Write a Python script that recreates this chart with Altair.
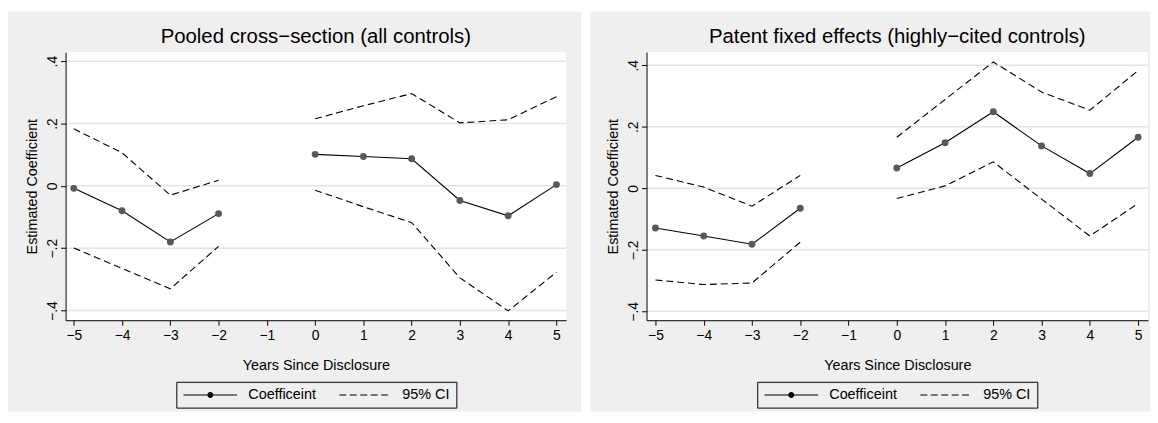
import json
import altair as alt
import pandas as pd

# ---------------- data ----------------
years = [-5, -4, -3, -2, 0, 1, 2, 3, 4, 5]
series_names = ["Coefficeint", "95% CI"]
titles = ["Pooled cross\u2212section (all controls)",
          "Patent fixed effects (highly\u2212cited controls)"]

left_coef = [-0.008, -0.080, -0.180, -0.089, 0.101, 0.094, 0.087, -0.047, -0.096, 0.004]
left_upper = [0.183, 0.106, -0.030, 0.018, 0.215, 0.257, 0.296, 0.202, 0.212, 0.286]
left_lower = [-0.199, -0.265, -0.330, -0.194, -0.014, -0.067, -0.118, -0.295, -0.401, -0.277]

right_coef = [-0.129, -0.155, -0.182, -0.065, 0.066, 0.148, 0.249, 0.138, 0.048, 0.166]
right_upper = [0.042, 0.004, -0.058, 0.042, 0.166, 0.289, 0.411, 0.313, 0.254, 0.383]
right_lower = [-0.298, -0.313, -0.308, -0.175, -0.033, 0.008, 0.086, -0.035, -0.155, -0.049]

x_tick_values = [-5, -4, -3, -2, -1, 0, 1, 2, 3, 4, 5]
x_tick_labels = ["\u22125", "\u22124", "\u22123", "\u22122", "\u22121", "0", "1", "2", "3", "4", "5"]
y_tick_values = [-0.4, -0.2, 0.0, 0.2, 0.4]
y_tick_labels = ["\u2212.4", "\u2212.2", "0", ".2", ".4"]

# ---------------- style ----------------
FONT = "Liberation Sans"
GRAY = "#efefef"
GRID = "#e4e4e4"
PT = "#595959"
H = 270

CIRCLE = "M3,0A0.5,0.5 0 1,0 4,0A0.5,0.5 0 1,0 3,0Z"


def _bar(a, b):
    return "M{},-0.09H{}V0.09H{}Z".format(a, b, a)


fill_solid = _bar(-1, 3) + _bar(4, 8) + CIRCLE
fill_dash = "".join(_bar(a, b) for a, b in
                    [(-0.67, 0.5), (1.08, 2.25), (2.83, 4.0), (4.58, 5.75), (6.33, 7.5)])

x_expr = "{}[indexof({}, datum.value)]".format(
    json.dumps(x_tick_labels, ensure_ascii=False), json.dumps(x_tick_values))
y_expr = "{}[indexof({}, round(datum.value*10))]".format(
    json.dumps(y_tick_labels, ensure_ascii=False),
    json.dumps([int(round(v * 10)) for v in y_tick_values]))

xaxis = alt.Axis(values=x_tick_values, labelExpr=x_expr, title="Years Since Disclosure",
                 grid=False, tickSize=5, labelPadding=3, titlePadding=17, zindex=1)
yaxis = alt.Axis(values=y_tick_values, labelExpr=y_expr, title="Estimated Coefficient",
                 grid=False, tickSize=5, labelAngle=270, labelAlign="center",
                 labelBaseline="alphabetic", labelPadding=4, titlePadding=6, zindex=1)


def panel(title, coef, upper, lower, xdom, ydom, width, gx0, gx1):
    rows = []
    for i, yr in enumerate(years):
        period = "pre" if yr < 0 else "post"
        rows.append(dict(year=yr, value=coef[i], series=series_names[0], line="coef_" + period))
        rows.append(dict(year=yr, value=upper[i], series=series_names[1], line="up_" + period))
        rows.append(dict(year=yr, value=lower[i], series=series_names[1], line="lo_" + period))
    df = pd.DataFrame(rows)

    xs = alt.Scale(domain=xdom, nice=False, zero=False)
    ys = alt.Scale(domain=ydom, nice=False, zero=False)
    one = pd.DataFrame({"k": [0]})

    gray = alt.Chart(one).mark_rect(fill=GRAY).encode(
        x=alt.value(gx0), x2=alt.value(gx1), y=alt.value(-41), y2=alt.value(362))
    white = alt.Chart(one).mark_rect(fill="white").encode(
        x=alt.value(0), x2=alt.value(width), y=alt.value(0), y2=alt.value(H))
    grid = alt.Chart(pd.DataFrame({"v": y_tick_values})).mark_rule(
        color=GRID, strokeWidth=1.5).encode(y=alt.Y("v:Q", scale=ys, axis=yaxis))

    base = alt.Chart(df)
    enc = dict(x=alt.X("year:Q", scale=xs, axis=xaxis),
               y=alt.Y("value:Q", scale=ys, axis=yaxis),
               detail="line:N")
    ci_lines = base.transform_filter(alt.datum.series == series_names[1]).mark_line(
        color="black", strokeWidth=1.1, strokeDash=[7, 4]).encode(**enc)
    coef_line = base.transform_filter(alt.datum.series == series_names[0]).mark_line(
        color="black", strokeWidth=1.1).encode(**enc)
    points = base.transform_filter(alt.datum.series == series_names[0]).mark_circle(
        size=48, color=PT, opacity=1).encode(
        x=alt.X("year:Q", scale=xs, axis=xaxis),
        y=alt.Y("value:Q", scale=ys, axis=yaxis),
    )
    lg = alt.Legend(orient="none", legendX=111.5, legendY=332, direction="horizontal",
                    title=None, strokeColor="black", padding=6, symbolSize=144,
                    symbolOpacity=1, symbolFillColor="black", symbolStrokeWidth=0,
                    labelFontSize=14.5, labelFont=FONT, labelColor="black",
                    labelOffset=52, columnPadding=20)
    leg = alt.Chart(pd.DataFrame({"series": series_names})).transform_filter(
        "false").mark_point(filled=True, color="black", strokeWidth=0).encode(
        shape=alt.Shape("series:N",
                        scale=alt.Scale(domain=series_names, range=[fill_solid, fill_dash]),
                        legend=lg))
    ttl = alt.Chart(pd.DataFrame({"t": [title]})).mark_text(
        font=FONT, fontSize=20.5, align="center", baseline="alphabetic", color="black").encode(
        text="t:N", x=alt.value(width / 2), y=alt.value(-9))

    return alt.layer(gray, white, grid, ci_lines, coef_line, points, leg, ttl).properties(
        width=width, height=H)


left = panel(titles[0], left_coef, left_upper, left_lower,
             [-5.17, 5.2], [-0.431, 0.429], 504, -58, 519)
right = panel(titles[1], right_coef, right_upper, right_lower,
              [-5.185, 5.205], [-0.429, 0.443], 505, -57, 507)

chart = alt.hconcat(left, right, spacing=9).resolve_scale(
    x="independent", y="independent", shape="independent"
).resolve_legend(shape="independent").properties(
    padding={"left": 0, "top": 2, "right": 0, "bottom": 0}, background="white"
).configure_view(strokeWidth=0).configure_axis(
    labelFont=FONT, titleFont=FONT, labelFontSize=14, titleFontSize=14.5,
    titleFontWeight="normal", labelColor="black", titleColor="black",
    domainColor="black", tickColor="black", domainWidth=1, tickWidth=1,
)

chart.save("out.html", embed_options={"renderer": "svg", "actions": False})
